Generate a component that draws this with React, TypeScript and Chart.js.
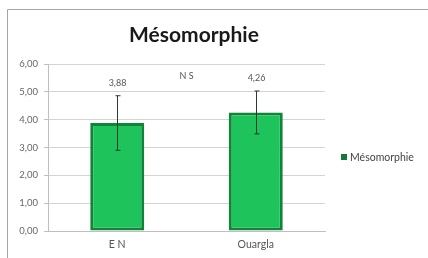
import React, { useEffect, useRef } from "react";
import { Chart, registerables } from "chart.js";

Chart.register(...registerables);

const TITLE = "Mésomorphie";
const CATEGORIES = ["E N", "Ouargla"];
const MEANS = [3.88, 4.26];
const ERRORS = [0.98, 0.77];
const VALUE_LABELS = ["3,88", "4,26"];
const SIGNIFICANCE = "N S";
const Y_TICKS_MIN = 0;
const Y_TICKS_MAX = 6;

const FONT = "'Lato', 'Open Sans', sans-serif";

const extrasPlugin = {
  id: "extras",
  beforeDraw(chart: any) {
    const { ctx } = chart;
    ctx.save();
    ctx.fillStyle = "#ffffff";
    ctx.fillRect(0, 0, chart.width, chart.height);
    ctx.strokeStyle = "#a6a6a6";
    ctx.lineWidth = 1;
    ctx.beginPath();
    ctx.moveTo(7.5, chart.height);
    ctx.lineTo(7.5, 9.5);
    ctx.lineTo(chart.width, 9.5);
    ctx.stroke();
    ctx.restore();
  },
  afterDatasetsDraw(chart: any) {
    const { ctx } = chart;
    const x = chart.scales.x;
    const y = chart.scales.y;
    ctx.save();
    ctx.strokeStyle = "#2b3a2f";
    ctx.lineWidth = 1;
    MEANS.forEach((m, i) => {
      const px = Math.round(x.getPixelForValue(i)) + 0.5;
      const top = y.getPixelForValue(m + ERRORS[i]);
      const bot = y.getPixelForValue(m - ERRORS[i]);
      ctx.beginPath();
      ctx.moveTo(px, top);
      ctx.lineTo(px, bot);
      ctx.moveTo(px - 2, top);
      ctx.lineTo(px + 3, top);
      ctx.moveTo(px - 2, bot);
      ctx.lineTo(px + 3, bot);
      ctx.stroke();
      ctx.fillStyle = "#555555";
      ctx.font = `9px ${FONT}`;
      ctx.textAlign = "center";
      ctx.textBaseline = "bottom";
      ctx.fillText(VALUE_LABELS[i], px, top - 8);
    });
    const midX = (x.getPixelForValue(0) + x.getPixelForValue(1)) / 2;
    ctx.fillStyle = "#555555";
    ctx.font = `9px ${FONT}`;
    ctx.textAlign = "center";
    ctx.textBaseline = "middle";
    ctx.fillText(SIGNIFICANCE, midX, y.getPixelForValue(5.55));
    ctx.fillStyle = "#1a1a1a";
    ctx.font = `bold 21px ${FONT}`;
    ctx.textAlign = "center";
    ctx.textBaseline = "middle";
    ctx.fillText(TITLE, 194, 35);
    ctx.fillStyle = "#127a3a";
    ctx.fillRect(341, 154, 6, 6);
    ctx.fillStyle = "#444444";
    ctx.font = `10.5px ${FONT}`;
    ctx.textAlign = "left";
    ctx.textBaseline = "middle";
    ctx.fillText(TITLE, 350, 157.5);
    ctx.restore();
  },
};

export default function App() {
  const ref = useRef<HTMLCanvasElement>(null);
  useEffect(() => {
    if (!ref.current) return;
    const chart = new Chart(ref.current, {
      type: "bar",
      data: {
        labels: CATEGORIES,
        datasets: [
          {
            label: TITLE,
            data: MEANS,
            backgroundColor: "#1fc35b",
            borderColor: "#0f8538",
            borderWidth: 3,
            borderSkipped: false,
            barPercentage: 0.39,
            categoryPercentage: 1,
          },
        ],
      },
      options: {
        animation: false,
        responsive: false,
        maintainAspectRatio: false,
        layout: { padding: { left: 8, right: 103, top: 64, bottom: 4 } },
        plugins: { legend: { display: false }, title: { display: false }, tooltip: { enabled: false } },
        scales: {
          x: {
            grid: { display: false, drawTicks: false },
            border: { display: true, color: "#bfbfbf" },
            ticks: { color: "#555555", font: { family: FONT, size: 10.5 }, padding: 7 },
            afterFit: (s: any) => { s.height = 23; },
          },
          y: {
            min: Y_TICKS_MIN,
            max: Y_TICKS_MAX,
            ticks: {
              stepSize: 1,
              color: "#666666",
              font: { family: FONT, size: 9.5 },
              padding: 6,
              callback: (v: any) => Number(v).toFixed(2).replace(".", ","),
            },
            grid: { color: "#d4d4d4", tickLength: 4, tickColor: "#bfbfbf" },
            border: { display: true, color: "#bfbfbf" },
            afterFit: (s: any) => { s.width = 40; },
          },
        },
      },
      plugins: [extrasPlugin],
    });
    return () => chart.destroy();
  }, []);
  return (
    <div style={{ position: "fixed", left: 0, top: 0, width: 428, height: 258 }}>
      <canvas ref={ref} width={428} height={258} style={{ display: "block" }} />
    </div>
  );
}
